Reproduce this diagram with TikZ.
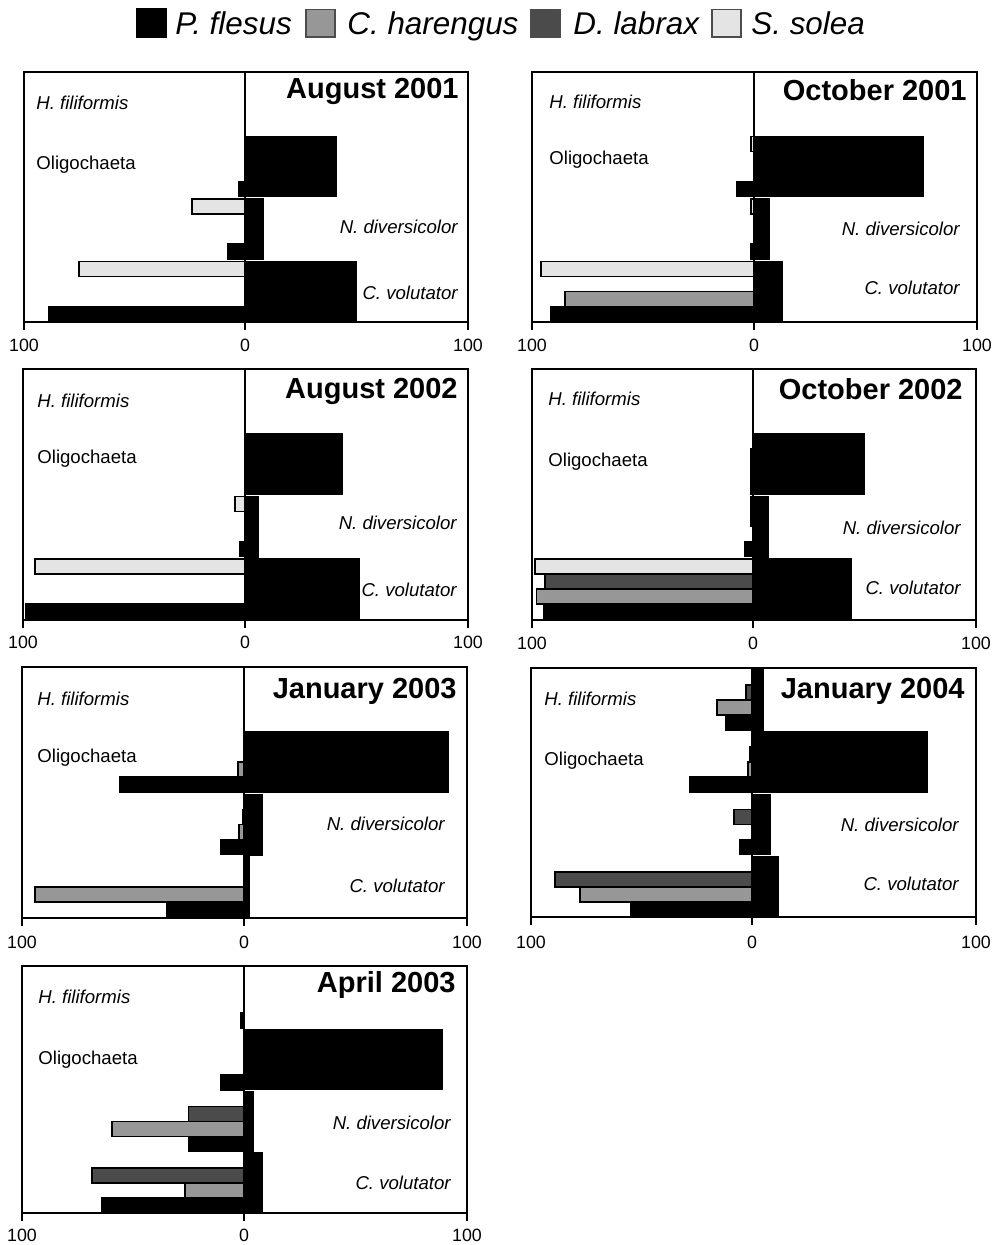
\documentclass[tikz,border=0pt]{standalone}
\usepackage{fontspec}
\setmainfont{Liberation Sans}
\definecolor{cSol}{HTML}{E4E4E4}
\definecolor{cHar}{HTML}{979797}
\definecolor{cLab}{HTML}{4B4B4B}
\tikzset{
  barF/.style={fill=black,draw=black,line width=0.8pt},
  barS/.style={fill=cSol,draw=black,line width=0.9pt},
  barH/.style={fill=cHar,draw=black,line width=0.9pt},
  barL/.style={fill=cLab,draw=black,line width=0.9pt},
  frame/.style={draw=black,line width=1pt},
  lab/.style={font=\fontsize{9.3}{11}\selectfont,inner sep=0pt},
  ilab/.style={font=\fontsize{9.3}{11}\selectfont\itshape,inner sep=0pt},
  ptitle/.style={font=\fontsize{14.5}{17}\selectfont\bfseries,inner sep=0pt,anchor=base east},
  ticklab/.style={font=\fontsize{8.9}{10}\selectfont,inner sep=0pt,anchor=base},
  leg/.style={font=\fontsize{15.7}{18}\selectfont\itshape,inner sep=0pt,anchor=base west},
}
\newcommand{\setpanel}[5]{\def\pL{#1}\def\pC{#2}\def\pR{#3}\def\pT{#4}\def\pB{#5}}
\newcommand{\fishbar}[4]{%
  \pgfmathsetmacro{\fya}{\pT+#2*(\pB-\pT)/4+2+#3*15}%
  \pgfmathsetmacro{\fyb}{\fya+15}%
  \pgfmathsetmacro{\fxa}{\pC-(\pC-\pL)/100*#4}%
  \draw[#1] (\fxa,\fya) rectangle (\pC,\fyb);}
\newcommand{\preybar}[2]{%
  \pgfmathsetmacro{\fya}{\pT+#1*(\pB-\pT)/4+2}%
  \pgfmathsetmacro{\fyb}{\pT+(#1+1)*(\pB-\pT)/4-0.5}%
  \pgfmathsetmacro{\fxa}{\pC+(\pR-\pC)/100*#2}%
  \draw[barF] (\pC,\fya) rectangle (\fxa,\fyb);}
\newcommand{\panelframe}{%
  \draw[frame] (\pL,\pB+8) -- (\pL,\pT) -- (\pR,\pT) -- (\pR,\pB+8);
  \draw[frame] (\pL,\pB) -- (\pR,\pB);
  \draw[frame] (\pC,\pT) -- (\pC,\pB+8);}
\newcommand{\ticklabels}[2]{%
  \node[ticklab] (#1ta) at (\pL,#2) {100};
  \node[ticklab] (#1tb) at (\pC,#2) {0};
  \node[ticklab] (#1tc) at (\pR,#2) {100};}
\newcommand{\preylabels}[9]{%
  \node[ilab,anchor=base west] (#1h) at (#2,#3) {H. filiformis};
  \node[lab,anchor=base west] (#1o) at (#2,#4) {Oligochaeta};
  \node[ilab,anchor=base east] (#1n) at (#5,#6) {N. diversicolor};
  \node[ilab,anchor=base east] (#1c) at (#5,#7) {C. volutator};
  \ticklabels{#1}{#8}}
\begin{document}
\begin{tikzpicture}[x=0.5pt,y=-0.5pt]
\useasboundingbox (0,0) rectangle (994,1245);
\fill[white] (0,0) rectangle (994,1245);
% legend
\draw[fill=black,draw=black,line width=0.7pt] (137,9) rectangle (166,37);
\node[leg] (lg1) at (175,34.5) {P. flesus};
\draw[fill=cHar,draw=black!70,line width=0.7pt] (306,9.5) rectangle (335,37);
\node[leg] (lg2) at (347,34.5) {C. harengus};
\draw[fill=cLab,draw=black!70,line width=0.7pt] (531,9.5) rectangle (560,37);
\node[leg] (lg3) at (573,34.5) {D. labrax};
\draw[fill=cSol,draw=black!70,line width=0.7pt] (712,9.5) rectangle (741,37);
\node[leg] (lg4) at (751,34.5) {S. solea};
% ---------- August 2001
\setpanel{24}{245}{468}{72}{322}
\preybar{1}{41}\preybar{2}{8}\preybar{3}{50}
\fishbar{barF}{1}{3}{2.7}
\fishbar{barS}{2}{0}{24}\fishbar{barF}{2}{3}{8}
\fishbar{barS}{3}{0}{75}\fishbar{barF}{3}{3}{89}
\panelframe
\node[ptitle] (p1t) at (459,99) {August 2001};
\preylabels{p1}{36}{110}{170}{458}{234}{300}{351.5}{}
% ---------- October 2001
\setpanel{532}{754}{977}{72}{322}
\preybar{1}{76}\preybar{2}{7}\preybar{3}{12.5}
\fishbar{barS}{1}{0}{1.3}\fishbar{barF}{1}{3}{7.7}
\fishbar{barS}{2}{0}{1.3}\fishbar{barF}{2}{3}{1.3}
\fishbar{barS}{3}{0}{96}\fishbar{barH}{3}{2}{85}\fishbar{barF}{3}{3}{91.5}
\panelframe
\node[ptitle] (p2t) at (967,100.5) {October 2001};
\preylabels{p2}{549}{109}{165}{960}{236}{295}{351.5}{}
% ---------- August 2002
\setpanel{23}{245}{468}{369}{620}
\preybar{1}{43.5}\preybar{2}{6}\preybar{3}{51}
\fishbar{barS}{2}{0}{4.5}\fishbar{barF}{2}{3}{2.3}
\fishbar{barS}{3}{0}{94.6}\fishbar{barF}{3}{3}{98.6}
\panelframe
\node[ptitle] (p3t) at (458,399) {August 2002};
\preylabels{p3}{37}{408}{463}{457}{529}{596}{648.5}{}
% ---------- October 2002
\setpanel{532}{753}{976}{369}{620}
\preybar{1}{50}\preybar{2}{7}\preybar{3}{44}
\fishbar{barL}{1}{1}{1}\fishbar{barH}{1}{2}{1}\fishbar{barF}{1}{3}{1}
\fishbar{barS}{2}{0}{1}\fishbar{barL}{2}{1}{1}\fishbar{barF}{2}{3}{3.6}
\fishbar{barS}{3}{0}{98.6}\fishbar{barL}{3}{1}{94}\fishbar{barH}{3}{2}{98}\fishbar{barF}{3}{3}{94.5}
\panelframe
\node[ptitle] (p4t) at (963,400) {October 2002};
\preylabels{p4}{548}{406}{466}{961}{534}{594}{649.5}{}
% ---------- January 2003
\setpanel{22}{244}{467}{667}{918}
\preybar{1}{91.5}\preybar{2}{8}\preybar{3}{2.2}
\fishbar{barH}{1}{2}{2.7}\fishbar{barF}{1}{3}{56}
\fishbar{barL}{2}{1}{0.6}\fishbar{barH}{2}{2}{2.2}\fishbar{barF}{2}{3}{10.4}
\fishbar{barH}{3}{2}{94}\fishbar{barF}{3}{3}{35}
\panelframe
\node[ptitle] (p5t) at (457,698) {January 2003};
\preylabels{p5}{37}{705}{762}{445}{830}{892}{948.5}{}
% ---------- January 2004
\setpanel{531}{752}{976}{668}{917}
\preybar{0}{5}\preybar{1}{78}\preybar{2}{8}\preybar{3}{11.7}
\fishbar{barL}{0}{1}{2.7}\fishbar{barH}{0}{2}{16}\fishbar{barF}{0}{3}{12}
\fishbar{barL}{1}{1}{1}\fishbar{barH}{1}{2}{1.8}\fishbar{barF}{1}{3}{28}
\fishbar{barL}{2}{1}{8}\fishbar{barF}{2}{3}{5.4}
\fishbar{barL}{3}{1}{89}\fishbar{barH}{3}{2}{78}\fishbar{barF}{3}{3}{55}
\panelframe
\node[ptitle] (p6t) at (965,698) {January 2004};
\preylabels{p6}{544}{705}{765}{959}{831}{890}{948.5}{}
% ---------- April 2003
\setpanel{22}{244}{467}{966}{1213}
\preybar{1}{89}\preybar{2}{4}\preybar{3}{8}
\fishbar{barF}{0}{3}{1.5}
\fishbar{barF}{1}{3}{10.4}
\fishbar{barL}{2}{1}{25}\fishbar{barH}{2}{2}{59.5}\fishbar{barF}{2}{3}{25}
\fishbar{barL}{3}{1}{68.5}\fishbar{barH}{3}{2}{26.6}\fishbar{barF}{3}{3}{64}
\panelframe
\node[ptitle] (p7t) at (456,992) {April 2003};
\preylabels{p7}{38}{1003}{1064}{451}{1129}{1189}{1241.5}{}
\end{tikzpicture}
\end{document}
